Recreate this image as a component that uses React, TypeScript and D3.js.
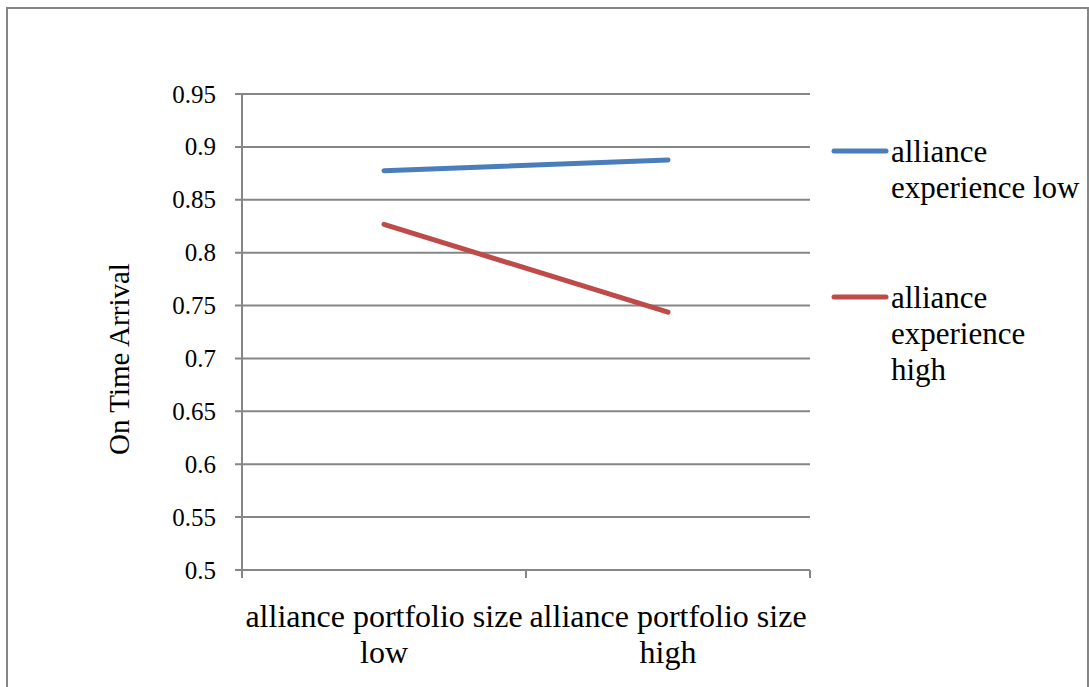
import { useEffect, useRef } from 'react';
import * as d3 from 'd3';

const categories = ['alliance portfolio size low', 'alliance portfolio size high'];
const seriesNames = ['alliance experience low', 'alliance experience high'];
const expLow = [0.8775, 0.8877];
const expHigh = [0.8268, 0.7437];
const yTicks = [0.5, 0.55, 0.6, 0.65, 0.7, 0.75, 0.8, 0.85, 0.9, 0.95];
const colors = ['#4A7EBB', '#BE4B48'];

const W = 1089;
const H = 687;
const FONT = "'Liberation Serif', 'Times New Roman', serif";

export default function App() {
  const svgRef = useRef<SVGSVGElement>(null);

  useEffect(() => {
    if (!svgRef.current) return;
    const svg = d3.select(svgRef.current);
    svg.selectAll('*').remove();

    // outer chart frame (bottom edge runs off the picture)
    svg.append('rect')
      .attr('x', 7).attr('y', 8)
      .attr('width', 1081).attr('height', 700)
      .attr('fill', '#fff')
      .attr('stroke', '#868686')
      .attr('stroke-width', 2);

    const left = 242, right = 810, top = 94, bottom = 570;

    const x = d3.scaleBand<string>().domain(categories).range([left, right]).padding(0);
    const y = d3.scaleLinear().domain([0.5, 0.95]).range([bottom, top]);

    const g = svg.append('g').attr('font-family', FONT).attr('fill', '#000');

    // gridlines
    g.selectAll('.grid')
      .data(yTicks)
      .enter().append('line')
      .attr('x1', left - 7).attr('x2', right)
      .attr('y1', d => y(d)).attr('y2', d => y(d))
      .attr('stroke', '#868686')
      .attr('stroke-width', 2);

    // y axis line
    g.append('line')
      .attr('x1', left).attr('x2', left)
      .attr('y1', top).attr('y2', bottom + 8)
      .attr('stroke', '#868686').attr('stroke-width', 2);

    // x tick marks at band edges
    const edges = [left, ...categories.map(c => (x(c) as number) + x.bandwidth())];
    g.selectAll('.xtick')
      .data(edges)
      .enter().append('line')
      .attr('x1', d => d).attr('x2', d => d)
      .attr('y1', bottom).attr('y2', bottom + 8)
      .attr('stroke', '#868686').attr('stroke-width', 2);

    // y tick labels
    g.selectAll('.ylab')
      .data(yTicks)
      .enter().append('text')
      .attr('x', 216)
      .attr('y', d => y(d))
      .attr('dy', '0.34em')
      .attr('text-anchor', 'end')
      .attr('font-size', 25)
      .text(d => String(d));

    // x labels (two lines)
    categories.forEach(c => {
      const cx = (x(c) as number) + x.bandwidth() / 2;
      const words = c.split(' ');
      const line2 = words.pop() as string;
      const t = g.append('text')
        .attr('text-anchor', 'middle')
        .attr('font-size', 32);
      t.append('tspan').attr('x', cx).attr('y', 627).text(words.join(' '));
      t.append('tspan').attr('x', cx).attr('y', 663).text(line2);
    });

    // y axis title
    g.append('text')
      .attr('transform', `translate(129, ${(top + bottom) / 2 + 27}) rotate(-90)`)
      .attr('text-anchor', 'middle')
      .attr('font-size', 29)
      .text('On Time Arrival');

    // series lines
    const series = [expLow, expHigh];
    const line = d3.line<number>()
      .x((_, i) => (x(categories[i]) as number) + x.bandwidth() / 2)
      .y(d => y(d));

    series.forEach((s, i) => {
      g.append('path')
        .attr('d', line(s) || '')
        .attr('fill', 'none')
        .attr('stroke', colors[i])
        .attr('stroke-width', 5)
        .attr('stroke-linecap', 'round');
    });

    // legend
    const legendLines = [['alliance', 'experience low'], ['alliance', 'experience', 'high']];
    const legendY = [151, 297];
    legendLines.forEach((lines, i) => {
      const ly = legendY[i];
      g.append('line')
        .attr('x1', 834).attr('x2', 886)
        .attr('y1', ly).attr('y2', ly)
        .attr('stroke', colors[i])
        .attr('stroke-width', 5)
        .attr('stroke-linecap', 'round');
      const t = g.append('text').attr('font-size', 31);
      lines.forEach((ln, j) => {
        t.append('tspan').attr('x', 891).attr('y', ly + 11 + j * 36).text(ln);
      });
    });
  }, []);

  return (
    <svg
      ref={svgRef}
      width={W}
      height={H}
      style={{ position: 'absolute', left: 0, top: 0, display: 'block', background: '#fff' }}
    />
  );
}
